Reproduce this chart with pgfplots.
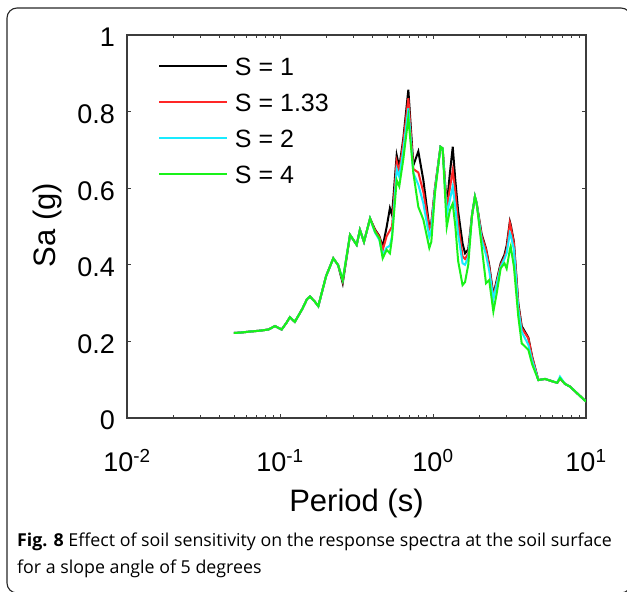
\documentclass[border=0pt]{standalone}
\usepackage{pgfplots}
\pgfplotsset{compat=1.18}
\usepackage{pgfplotstable}
\usepackage{fontspec}
\setmainfont{Liberation Sans}
\newfontfamily\capfont{Open Sans}

\pgfplotstableread{
T k r c g
0.050 0.222 0.222 0.222 0.222
0.055 0.223 0.223 0.223 0.223
0.065 0.226 0.226 0.226 0.226
0.074 0.228 0.228 0.228 0.228
0.084 0.231 0.231 0.231 0.231
0.0927 0.240 0.240 0.240 0.240
0.1025 0.231 0.231 0.231 0.231
0.110 0.248 0.248 0.248 0.248
0.116 0.263 0.263 0.263 0.263
0.125 0.251 0.251 0.251 0.251
0.140 0.285 0.285 0.285 0.285
0.150 0.310 0.310 0.310 0.310
0.157 0.317 0.317 0.317 0.317
0.168 0.305 0.305 0.305 0.305
0.178 0.292 0.292 0.292 0.292
0.200 0.370 0.370 0.370 0.370
0.223 0.417 0.417 0.417 0.417
0.240 0.399 0.399 0.399 0.399
0.257 0.352 0.357 0.360 0.360
0.287 0.478 0.478 0.478 0.478
0.317 0.452 0.452 0.452 0.452
0.333 0.491 0.491 0.491 0.491
0.354 0.460 0.460 0.460 0.460
0.388 0.521 0.521 0.521 0.521
0.418 0.492 0.490 0.484 0.486
0.446 0.475 0.473 0.465 0.469
0.469 0.447 0.438 0.425 0.417
0.498 0.499 0.475 0.445 0.439
0.523 0.548 0.490 0.450 0.430
0.540 0.530 0.500 0.475 0.470
0.579 0.686 0.670 0.650 0.621
0.602 0.655 0.645 0.630 0.605
0.640 0.730 0.720 0.700 0.676
0.690 0.857 0.835 0.809 0.784
0.744 0.660 0.650 0.640 0.640
0.802 0.696 0.641 0.609 0.551
0.865 0.621 0.590 0.560 0.518
0.946 0.499 0.494 0.473 0.444
0.975 0.508 0.505 0.490 0.460
1.03 0.600 0.600 0.595 0.587
1.12 0.708 0.708 0.708 0.708
1.156 0.704 0.704 0.704 0.704
1.23 0.553 0.548 0.530 0.499
1.29 0.640 0.600 0.570 0.543
1.346 0.708 0.647 0.604 0.560
1.40 0.620 0.590 0.550 0.500
1.46 0.540 0.510 0.480 0.410
1.56 0.456 0.422 0.404 0.347
1.62 0.430 0.415 0.400 0.355
1.70 0.440 0.430 0.420 0.400
1.80 0.530 0.530 0.530 0.530
1.88 0.578 0.578 0.578 0.578
1.93 0.560 0.560 0.560 0.560
2.08 0.480 0.475 0.465 0.448
2.22 0.443 0.440 0.426 0.352
2.33 0.400 0.395 0.385 0.360
2.48 0.321 0.315 0.310 0.278
2.61 0.360 0.355 0.350 0.326
2.77 0.404 0.400 0.395 0.391
2.93 0.426 0.420 0.415 0.404
3.03 0.450 0.440 0.430 0.390
3.18 0.513 0.509 0.483 0.440
3.22 0.505 0.500 0.478 0.448
3.38 0.460 0.455 0.440 0.395
3.61 0.300 0.295 0.285 0.265
3.80 0.240 0.235 0.225 0.195
4.20 0.210 0.208 0.191 0.178
4.45 0.160 0.158 0.150 0.140
4.88 0.099 0.099 0.099 0.099
5.40 0.102 0.102 0.102 0.102
6.11 0.095 0.095 0.095 0.095
6.49 0.092 0.092 0.092 0.092
6.76 0.104 0.104 0.108 0.104
7.29 0.089 0.089 0.089 0.089
7.86 0.082 0.082 0.082 0.082
10 0.043 0.043 0.043 0.043
}\spectra

\definecolor{axgray}{HTML}{3C3C3C}
\definecolor{sred}{rgb}{1,0.15,0.15}
\definecolor{scyan}{rgb}{0.1,0.92,1}
\definecolor{sgreen}{rgb}{0.1,0.95,0.1}

\begin{document}
\begin{tikzpicture}
\useasboundingbox (0pt,0pt) rectangle (627pt,592pt);
\draw[line width=1.1pt, black!85, rounded corners=10pt] (7pt,-1pt) rectangle (631pt,584pt);
\begin{axis}[
  at={(127pt,174pt)}, anchor=south west,
  scale only axis, width=459pt, height=383pt,
  xmode=log, xmin=0.01, xmax=10, ymin=0, ymax=1,
  xtick={0.01,0.1,1,10},
  xticklabels={10\textsuperscript{-2},10\textsuperscript{-1},10\textsuperscript{0},10\textsuperscript{1}},
  ytick={0,0.2,0.4,0.6,0.8,1},
  yticklabels={0,0.2,0.4,0.6,0.8,1},
  /pgf/number format/assume math mode=true,
  tick align=inside,
  major tick length=4pt, minor tick length=3pt,
  axis line style={line width=1.2pt, axgray},
  every tick/.style={axgray, line width=0.8pt},
  tick label style={font=\fontsize{27}{30}\selectfont, inner sep=0pt},
  xticklabel style={anchor=base, yshift=-54pt},
  yticklabel style={anchor=base east, xshift=-12pt, yshift=-12pt},
  xlabel={Period (s)}, ylabel={Sa (g)},
  every axis x label/.style={at={(axis description cs:0.5,-0.243)}, anchor=base, font=\fontsize{31}{34}\selectfont},
  every axis y label/.style={at={(axis description cs:-0.174,0.504)}, anchor=center, rotate=90, font=\fontsize{31}{34}\selectfont},
  legend style={draw=none, fill=none, at={(rel axis cs:0.061,0.945)}, anchor=north west,
    font=\fontsize{25}{28}\selectfont, row sep=17pt, column sep=7pt,
    nodes={inner sep=0pt}},
  legend cell align=left,
  legend image code/.code={\draw[#1, line width=1.8pt] (0pt,2pt) -- (68pt,2pt);},
  every axis plot/.append style={line width=2pt},
]
\addplot[black] table[x=T, y=k] {\spectra};
\addlegendentry{S = 1}
\addplot[sred] table[x=T, y=r] {\spectra};
\addlegendentry{S = 1.33}
\addplot[scyan] table[x=T, y=c] {\spectra};
\addlegendentry{S = 2}
\addplot[sgreen] table[x=T, y=g] {\spectra};
\addlegendentry{S = 4}
\end{axis}
\node[anchor=base west, inner sep=0pt] at (17pt,45pt) {\capfont\fontsize{17.8}{20}\selectfont\textbf{Fig. 8} Effect of soil sensitivity on the response spectra at the soil surface};
\node[anchor=base west, inner sep=0pt] at (17pt,18pt) {\capfont\fontsize{17.8}{20}\selectfont for a slope angle of 5 degrees};
\end{tikzpicture}
\end{document}
